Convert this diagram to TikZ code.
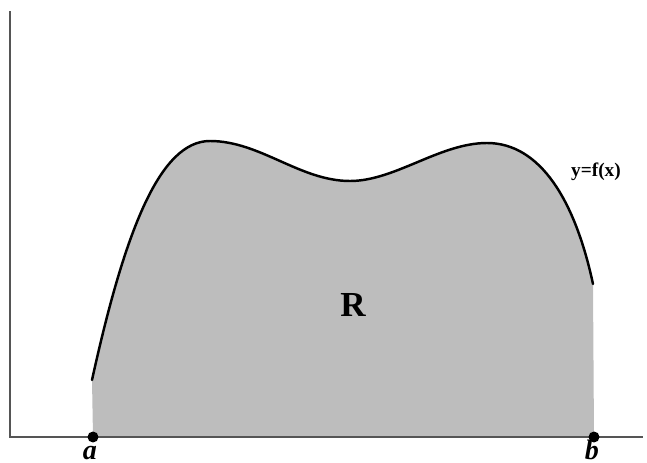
\documentclass[tikz,border=0pt]{standalone}
\usepackage{fontspec}
\setmainfont{Liberation Serif}
\definecolor{regiongray}{HTML}{BDBDBD}
\definecolor{axisgray}{HTML}{555555}
\tikzset{
  axisline/.style={draw=axisgray, line width=1.1pt},
  curveline/.style={draw=black, line width=1.4pt, line cap=round},
  enddot/.style={circle, fill=black, inner sep=0pt, minimum size=0.22cm},
  endlabel/.style={font=\fontsize{16}{18}\selectfont\bfseries\itshape, inner sep=0pt, anchor=base},
}
\begin{document}
\begin{tikzpicture}[x=0.02cm, y=-0.02cm]
\useasboundingbox (0,0) rectangle (647,463);
\def\curvepath{(92,380) .. controls (125,230) and (160,141) .. (210,141)
  .. controls (260,141) and (300,181) .. (350,181)
  .. controls (395,181) and (440,143) .. (487,143)
  .. controls (540,143) and (575,200) .. (593,284)}
\fill[regiongray] (93,437) -- \curvepath -- (594,437) -- cycle;
\draw[curveline] \curvepath;
\coordinate (top) at (10,11);
\coordinate (origin) at (10,437);
\coordinate (xend) at (643,437);
\draw[axisline] (top) -- (origin) -- (xend);
\node[enddot] (a) at (93,437) {};
\node[enddot] (b) at (594,437) {};
\node[endlabel] (alabel) at (90,459) {a};
\node[endlabel] (blabel) at (592,459) {b};
\node[font=\fontsize{20}{22}\selectfont\bfseries] (R) at (353,305) {R};
\node[font=\fontsize{11}{13}\selectfont\bfseries] (fx) at (596,172) {y=f(x)};
\end{tikzpicture}
\end{document}
